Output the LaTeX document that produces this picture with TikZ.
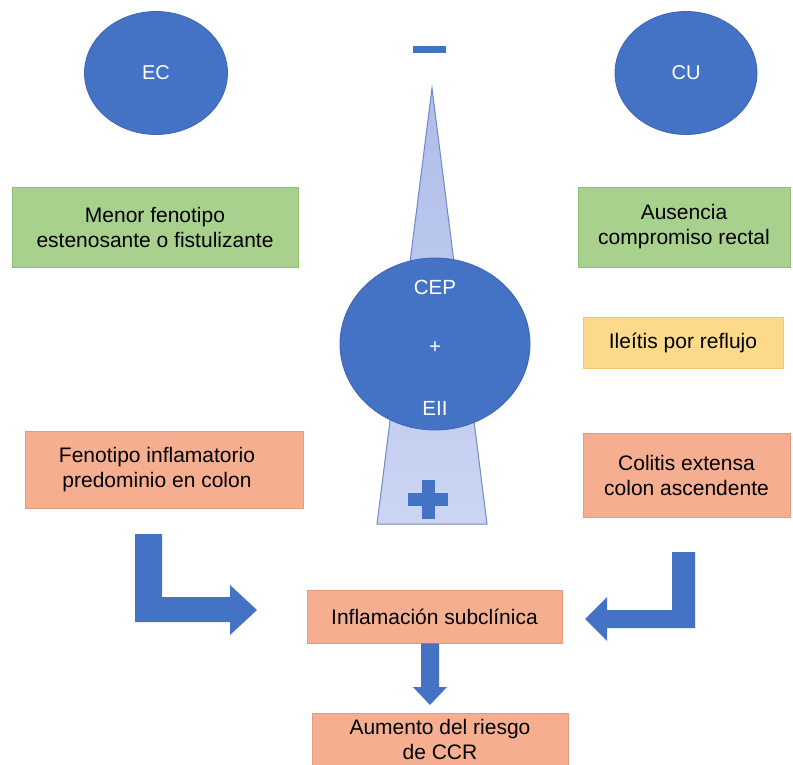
\documentclass[tikz,border=0pt]{standalone}
\usepackage{fontspec}
\setmainfont{Liberation Sans}
\usetikzlibrary{shapes.geometric}
\definecolor{eblue}{HTML}{4472C4}
\definecolor{eblueline}{HTML}{3E66B4}
\definecolor{tri}{HTML}{AFBDE9}
\definecolor{trib}{HTML}{CBD5F3}
\definecolor{triline}{HTML}{6F88CC}
\definecolor{gbox}{HTML}{A9D18E}
\definecolor{gline}{HTML}{93BE78}
\definecolor{ybox}{HTML}{FDD98B}
\definecolor{yline}{HTML}{F2C76E}
\definecolor{sbox}{HTML}{F5AF90}
\definecolor{sline}{HTML}{E99A78}
\begin{document}
\begin{tikzpicture}[x=1pt,y=-1pt,
  blob/.style={ellipse, fill=eblue, draw=eblueline, line width=0.8pt, text=white, font=\fontsize{20}{24}\selectfont, inner sep=0pt},
  lab/.style={text=white, font=\fontsize{20.5}{24}\selectfont, inner sep=0pt},
  box/.style={rectangle, line width=0.8pt, align=center, inner sep=0pt, font=\fontsize{21}{25}\selectfont, text=black},
  gbx/.style={box, fill=gbox, draw=gline},
  ybx/.style={box, fill=ybox, draw=yline},
  sbx/.style={box, fill=sbox, draw=sline},
  blockarrow/.style={fill=eblue, draw=none}
]
\useasboundingbox (0,0) rectangle (793,765);
\fill[white] (0,0) rectangle (793,765);

% top ellipses
\node[blob, minimum width=143pt, minimum height=123pt] (ec) at (156,73) {EC};
\node[blob, minimum width=142pt, minimum height=123pt] (cu) at (686,73) {CU};

% minus sign
\node[fill=eblue, minimum width=33pt, minimum height=7pt, inner sep=0pt] (minus) at (429.5,49.5) {};

% triangle
\coordinate (apex) at (432,88);
\coordinate (bl) at (377,524);
\coordinate (br) at (487,524);
\shade[top color=tri, bottom color=trib, draw=triline, line width=1pt] (apex) -- (br) -- (bl) -- cycle;

% plus sign in triangle
\node[fill=eblue, minimum width=40pt, minimum height=13pt, inner sep=0pt] (plusH) at (428,499) {};
\node[fill=eblue, minimum width=13pt, minimum height=39pt, inner sep=0pt] (plusV) at (428,499) {};

% big ellipse
\node[blob, minimum width=190pt, minimum height=172pt] (cep) at (435,344) {};
\node[lab] (cepA) at (435,287) {CEP};
\node[lab] (cepB) at (435,348) {+};
\node[lab] (cepC) at (435,408) {EII};

% boxes
\node[gbx, minimum width=286pt, minimum height=80pt] (g1) at (155,227) {Menor fenotipo\\estenosante o fistulizante};
\node[gbx, minimum width=212pt, minimum height=80pt] (g2) at (684,227) {Ausencia\\compromiso rectal};
\node[ybx, minimum width=200pt, minimum height=51pt] (y1) at (683,342.5) {Ileítis por reflujo};
\node[sbx, minimum width=278pt, minimum height=77pt] (s1) at (164,469.5) {};
\node[box] (s1T) at (157,469.5) {Fenotipo inflamatorio\\predominio en colon};
\node[sbx, minimum width=207pt, minimum height=84pt] (s2) at (686.5,475) {Colitis extensa\\colon ascendente};
\node[sbx, minimum width=255pt, minimum height=53pt] (inf) at (434.5,616.5) {Inflamación subclínica};
\node[sbx, minimum width=256pt, minimum height=60pt, anchor=north] (aum) at (440,713) {};
\node[box] (aumT) at (440,739) {Aumento del riesgo\\de CCR};

% left L arrow
\fill[blockarrow] (135,534) -- (162,534) -- (162,597) -- (230,597) -- (230,585) -- (257,610) -- (230,635) -- (230,622) -- (135,622) -- cycle;
% right L arrow
\fill[blockarrow] (672,552) -- (695,552) -- (695,628) -- (607,628) -- (607,641) -- (585,619) -- (607,597) -- (607,610) -- (672,610) -- cycle;
% down arrow
\fill[blockarrow] (inf.south -| 421,0) -- (inf.south -| 439,0) -- (439,687) -- (447,687) -- (430,705) -- (413,687) -- (421,687) -- cycle;
\end{tikzpicture}
\end{document}
